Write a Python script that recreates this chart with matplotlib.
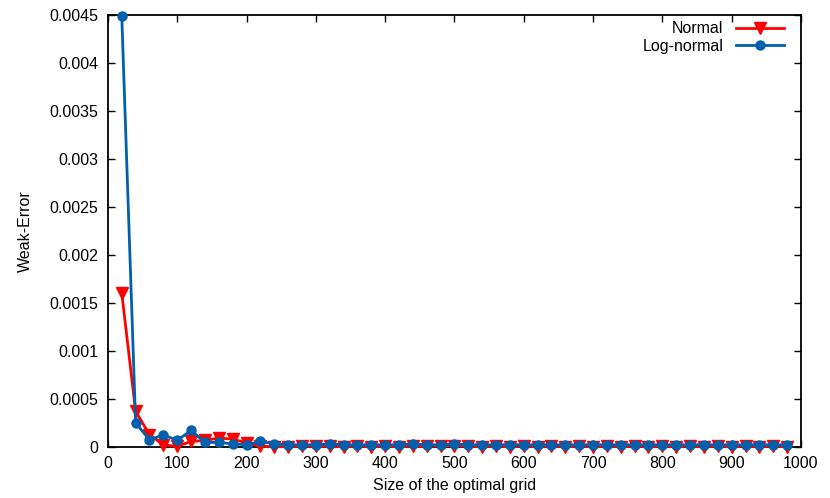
import matplotlib
matplotlib.use("Agg")
import matplotlib.pyplot as plt
import numpy as np

plt.rcParams['font.family'] = ['Liberation Sans', 'DejaVu Sans']

# taille de la grille (20, 40, ..., 980)
grid_size = list(range(20, 1000, 20))

# erreur faible, loi normale
err_normal = [
    0.00160, 0.00037, 0.000125, 0.00002, 0.000003, 0.000055, 0.000065, 0.00009,
    0.00008, 0.00004, 0.000005, 0.0, 0.0, 0.000005, 0.000003, 0.000005,
    0.0, 0.000005, 0.0, 0.000005, 0.0, 0.000005, 0.000003, 0.00001,
    0.00001, 0.000005, 0.0, 0.000005, 0.0, 0.000005, 0.0, 0.000005,
    0.0, 0.000005, 0.0, 0.000005, 0.0, 0.000005, 0.0, 0.000005,
    0.0, 0.000005, 0.0, 0.000005, 0.0, 0.000005, 0.0, 0.000005, 0.0,
]

# erreur faible, loi log-normale
err_lognormal = [
    0.00449, 0.00025, 0.00007, 0.000125, 0.000065, 0.00017, 0.000045, 0.000045,
    0.00003, 0.00002, 0.000055, 0.00003, 0.00002, 0.00002, 0.00002, 0.00003,
    0.00002, 0.00002, 0.00002, 0.00002, 0.00002, 0.00003, 0.00002, 0.00002,
    0.00003, 0.00002, 0.00002, 0.00002, 0.00002, 0.00002, 0.00002, 0.00002,
    0.00002, 0.00002, 0.00002, 0.00002, 0.00002, 0.00002, 0.00002, 0.00002,
    0.00002, 0.00002, 0.00002, 0.00002, 0.00002, 0.00002, 0.00002, 0.00002, 0.00002,
]

x_ticks = np.arange(0, 1001, 100)
y_ticks = [0, 0.0005, 0.001, 0.0015, 0.002, 0.0025, 0.003, 0.0035, 0.004, 0.0045]
y_labels = ["0", "0.0005", "0.001", "0.0015", "0.002", "0.0025", "0.003", "0.0035", "0.004", "0.0045"]

fig = plt.figure(figsize=(8.3, 4.98), dpi=100)
ax = fig.add_axes([0.130, 0.103, 0.835, 0.867])

ax.plot(grid_size, err_normal, color="#ff0000", lw=2, marker="v", ms=8.5,
        label="Normal", clip_on=False, zorder=3)
ax.plot(grid_size, err_lognormal, color="#0060ad", lw=2, marker="o", ms=6.5,
        label="Log-normal", clip_on=False, zorder=4)

ax.set_xlim(0, 1000)
ax.set_ylim(0, 0.0045)
ax.set_xticks(x_ticks)
ax.set_yticks(y_ticks)
ax.set_yticklabels(y_labels)
ax.tick_params(direction="in", top=True, right=True, length=5, width=1,
               labelsize=11.5, pad=7)
for s in ax.spines.values():
    s.set_linewidth(1.3)

ax.set_xlabel("Size of the optimal grid", fontsize=11.5, labelpad=5)
ax.set_ylabel("Weak-Error", fontsize=11.5, labelpad=12)

leg = ax.legend(loc="upper right", bbox_to_anchor=(0.98, 0.993), frameon=False,
                markerfirst=False, fontsize=11.5, handlelength=3.0,
                borderaxespad=0, borderpad=0.2, labelspacing=0.15,
                handletextpad=0.8)
for t in leg.get_texts():
    t.set_ha("right")
leg._legend_box.align = "right"

fig.savefig("out.png", dpi=100)
